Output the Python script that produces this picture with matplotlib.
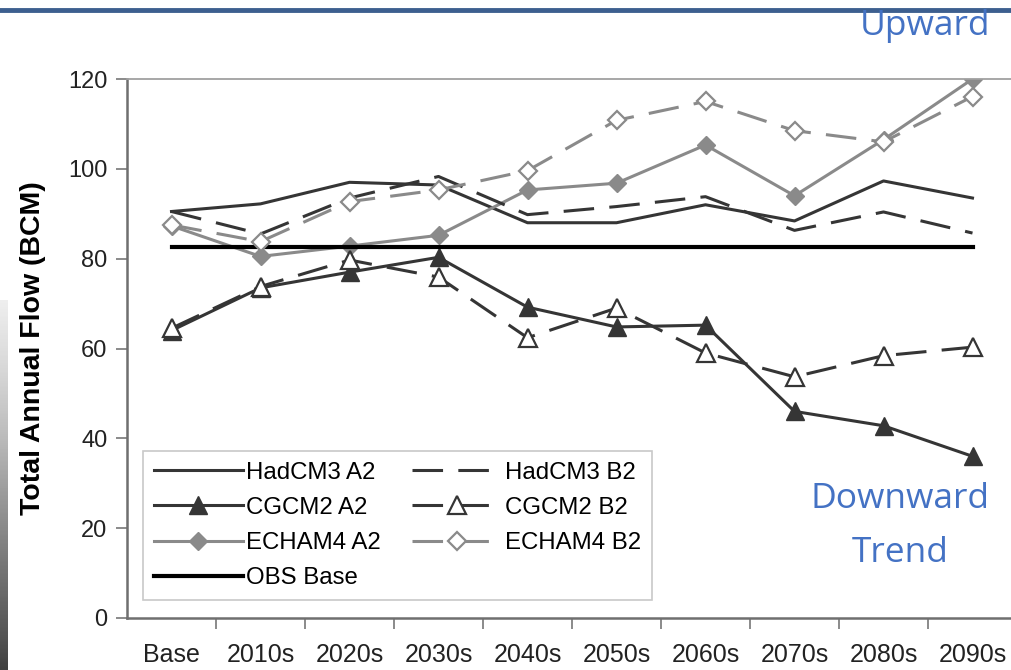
import matplotlib
matplotlib.use("Agg")
import matplotlib.pyplot as plt
import numpy as np

categories = ["Base", "2010s", "2020s", "2030s", "2040s", "2050s", "2060s", "2070s", "2080s", "2090s"]
hadcm3_a2 = [90.5, 92.2, 97.0, 96.4, 88.0, 88.0, 92.0, 88.4, 97.3, 93.5]
hadcm3_b2 = [90.5, 85.5, 93.5, 98.3, 89.8, 91.6, 93.8, 86.3, 90.4, 85.7]
cgcm2_a2 = [64.0, 73.5, 77.0, 80.3, 69.2, 64.8, 65.2, 46.0, 42.8, 36.0]
cgcm2_b2 = [64.5, 73.8, 79.7, 75.9, 62.4, 69.0, 59.0, 53.7, 58.4, 60.3]
echam4_a2 = [87.3, 80.5, 82.8, 85.2, 95.3, 96.8, 105.3, 94.0, 106.5, 120.0]
echam4_b2 = [87.5, 83.8, 92.7, 95.3, 99.6, 110.8, 115.0, 108.5, 106.0, 116.1]
obs_base = [82.5] * len(categories)
y_ticks = [0, 20, 40, 60, 80, 100, 120]

W, H = 1012, 670
fig = plt.figure(figsize=(W / 100, H / 100), dpi=100)
fig.patch.set_facecolor("white")

# decorative top bar
fig.add_artist(plt.Line2D([0, 1], [1 - 10 / H, 1 - 10 / H], color="#3d5f8f", lw=3.5, transform=fig.transFigure))

# decorative left gradient strip
gax = fig.add_axes([0, 0, 8 / W, 370 / H])
grad = np.linspace(0, 1, 256).reshape(-1, 1)
gax.imshow(grad, aspect="auto", cmap="Greys", vmin=-0.2, vmax=1.3, origin="upper")
gax.axis("off")

ax = fig.add_axes([127 / W, (H - 618) / H, 890 / W, (618 - 79) / H])
x = np.arange(len(categories))

dark = "#353535"
gray = "#8a8a8a"
lw = 2.2
dash = (10, 5)

l1, = ax.plot(x, hadcm3_a2, color=dark, lw=lw, label="HadCM3 A2")
l2, = ax.plot(x, cgcm2_a2, color=dark, lw=lw, marker="^", ms=13, mfc=dark, mec=dark, label="CGCM2 A2")
l3, = ax.plot(x, echam4_a2, color=gray, lw=lw, marker="D", ms=9, mfc=gray, mec=gray, label="ECHAM4 A2")
l4, = ax.plot(x, obs_base, color="black", lw=3.0, label="OBS Base")
l5, = ax.plot(x, hadcm3_b2, color=dark, lw=lw, dashes=dash, label="HadCM3 B2")
l6, = ax.plot(x, cgcm2_b2, color=dark, lw=lw, dashes=dash, marker="^", ms=13, mfc="white", mec=dark, mew=1.6, label="CGCM2 B2")
l7, = ax.plot(x, echam4_b2, color=gray, lw=lw, dashes=dash, marker="D", ms=9, mfc="white", mec=gray, mew=1.6, label="ECHAM4 B2")

ax.set_xlim(-0.5, len(categories) - 0.5)
ax.set_ylim(0, 120)
ax.set_yticks(y_ticks)
ax.set_yticklabels([str(v) for v in y_ticks], fontsize=17, family="Liberation Sans", color="#222222")
ax.set_xticks(x)
ax.set_xticklabels(categories, fontsize=18, family="Liberation Sans", color="#222222")
ax.set_xticks(x[:-1] + 0.5, minor=True)
ax.tick_params(axis="x", which="major", length=0, pad=18)
ax.tick_params(axis="x", which="minor", length=8, width=1.2, color="#777777", direction="out")
ax.tick_params(axis="y", which="major", length=8, width=1.2, color="#777777", direction="out", pad=6)

for s in ["left", "bottom"]:
    ax.spines[s].set_color("#6f6f6f")
    ax.spines[s].set_linewidth(1.8)
ax.spines["top"].set_color("#a0a0a0")
ax.spines["top"].set_linewidth(1.3)
ax.spines["right"].set_visible(False)

ax.set_ylabel("Total Annual Flow (BCM)", fontsize=20.5, fontweight="bold", family="Liberation Sans", labelpad=16)

leg = ax.legend(handles=[l1, l2, l3, l4, l5, l6, l7], ncol=2, loc="lower left",
                bbox_to_anchor=(16 / 890, 18 / 539), prop={"family": "Liberation Sans", "size": 17.3},
                handlelength=3.7, handletextpad=0.15, columnspacing=1.3, labelspacing=0.55,
                frameon=True, fancybox=False, borderpad=0.45, borderaxespad=0, markerscale=1.0)
leg.get_frame().set_edgecolor("#bbbbbb")
leg.get_frame().set_linewidth(1.2)

blue = "#4472c4"
fig.text(860 / W, 1 - 35 / H, "Upward", color=blue, fontsize=25.5, family="Open Sans",
         ha="left", va="baseline")
fig.text(900 / W, 1 - 508 / H, "Downward", color=blue, fontsize=25.5, family="Open Sans",
         ha="center", va="baseline")
fig.text(900 / W, 1 - 562 / H, "Trend", color=blue, fontsize=25.5, family="Open Sans",
         ha="center", va="baseline")

fig.savefig("out.png", dpi=100)
